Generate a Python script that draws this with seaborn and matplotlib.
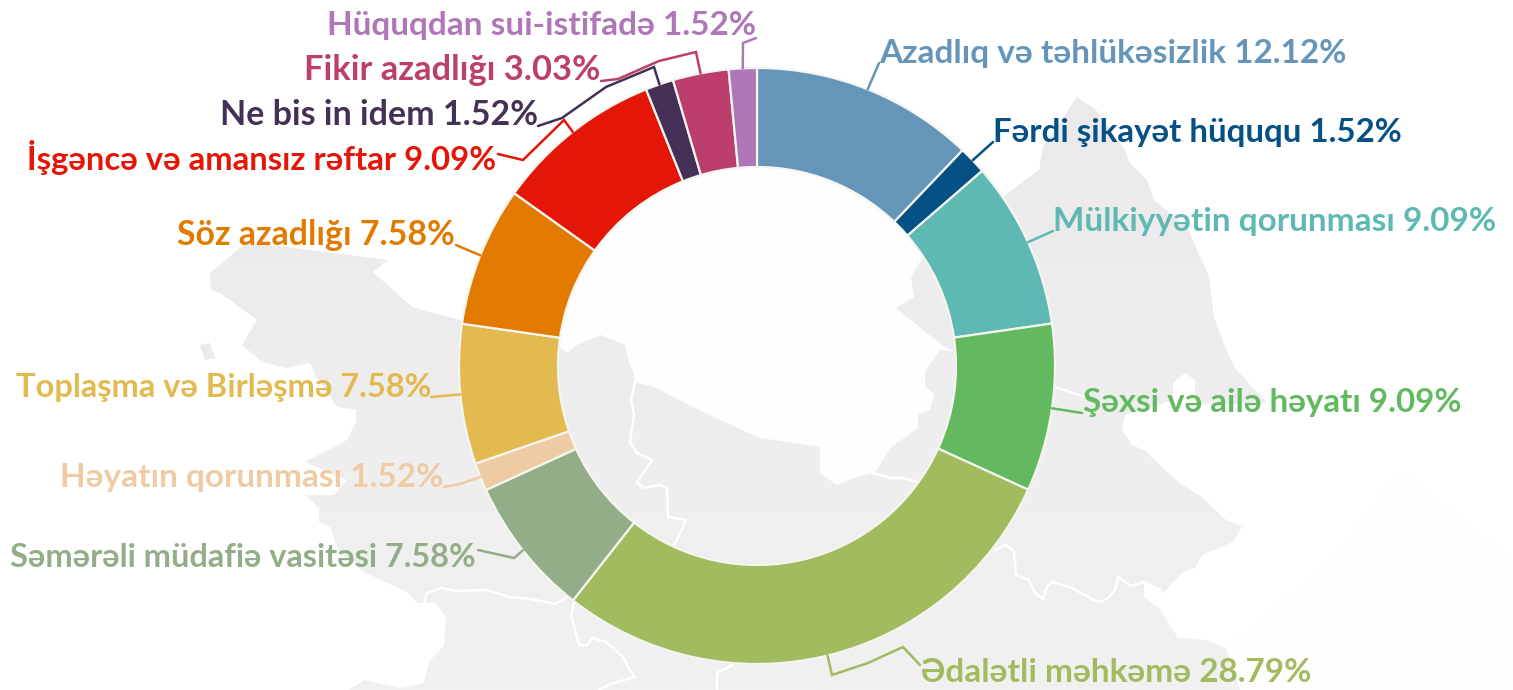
import numpy as np
import matplotlib
matplotlib.use("Agg")
import matplotlib.pyplot as plt
from matplotlib.patches import Polygon
import seaborn as sns

labels = ["Azadlıq və təhlükəsizlik", "Fərdi şikayət hüququ", "Mülkiyyətin qorunması",
          "Şəxsi və ailə həyatı", "Ədalətli məhkəmə", "Səmərəli müdafiə vasitəsi",
          "Həyatın qorunması", "Toplaşma və Birləşmə", "Söz azadlığı",
          "İşgəncə və amansız rəftar", "Ne bis in idem", "Fikir azadlığı", "Hüquqdan sui-istifadə"]
shares = [12.12, 1.52, 9.09, 9.09, 28.79, 7.58, 1.52, 7.58, 7.58, 9.09, 1.52, 3.03, 1.52]
colors = ["#6596b9", "#055186", "#5fb9b3", "#62b95f", "#a1bb5e", "#94ad89", "#efcba3",
          "#e3ba50", "#e27a00", "#e41607", "#453056", "#bc3e6d", "#b077b8"]

# label placement: (x edge in px, baseline y in px, alignment)
label_pos = [(879, 63, "left"), (993, 142, "left"), (1053, 231, "left"), (1083, 412, "left"),
             (921, 682, "left"), (476, 567, "right"), (443, 487, "right"), (431, 397, "right"),
             (455, 245, "right"), (496, 170, "right"), (538, 125, "right"), (600, 80, "right"),
             (756, 35, "right")]
label_sizes = [24, 23.8, 24, 23.9, 24, 23.4, 24, 23.5, 24.4, 23.65, 24.5, 24.8, 24]
# leader knee points after the wedge anchor
leaders = [[(879, 63)], [(993, 142)], [(1053, 231)], [(1082, 413)],
           [(832, 675), (868, 663), (903, 647), (920, 665)],
           [(514, 558), (478, 550)], [(460, 484), (444, 487)], [(431, 397)], [(456, 245)],
           [(564, 120), (523, 160), (498, 154)],
           [(654, 67), (606, 87), (562, 118), (538, 126)],
           [(696, 52), (659, 61), (618, 79), (601, 81)],
           [(743, 43), (756, 38)]]

land = [(210, 273), (247, 242), (388, 260), (373, 272), (412, 307), (460, 320), (560, 330), (800, 330),
        (1005, 195), (1039, 170), (1043, 147), (1077, 97), (1096, 110), (1125, 150), (1130, 163),
        (1147, 180), (1154, 200), (1187, 227), (1209, 277), (1214, 317), (1224, 345), (1235, 368),
        (1267, 403), (1195, 405), (1195, 380), (1185, 373), (1173, 383), (1173, 400), (1125, 415),
        (1122, 430), (1132, 445), (1144, 450), (1178, 482), (1202, 497), (1226, 520), (1242, 527),
        (1233, 542), (1202, 555), (1195, 568), (1183, 572), (1163, 593), (1144, 582), (1144, 597),
        (1159, 608), (1178, 638), (1207, 640), (1226, 648), (1240, 690), (349, 690), (364, 680),
        (402, 688), (424, 683), (429, 662), (444, 645), (446, 617), (436, 603), (417, 603),
        (407, 592), (364, 572), (339, 552), (330, 527), (319, 522), (319, 508), (305, 495),
        (334, 495), (347, 480), (305, 462), (347, 440), (356, 422), (356, 410), (337, 407),
        (315, 375), (310, 363), (286, 368), (262, 362), (242, 345), (257, 320), (220, 293), (211, 290)]
sea = [(557, 345), (567, 353), (577, 345), (601, 335), (625, 345), (629, 363), (634, 373), (635, 382),
       (654, 387), (703, 412), (760, 438), (794, 443), (820, 447), (820, 473), (837, 485), (856, 477),
       (875, 473), (890, 448), (918, 428), (918, 415), (930, 410), (934, 395), (925, 385), (925, 372),
       (940, 350), (955, 352), (942, 345), (923, 330), (896, 308), (914, 297), (911, 277), (923, 257),
       (960, 200), (900, 120), (700, 120), (557, 250)]
faint = [(1240, 690), (1226, 648), (1330, 560), (1400, 470), (1513, 560), (1513, 690)]
islet = [(200, 345), (210, 343), (215, 358), (205, 360)]
borders = [
    [(424, 603), (427, 593), (441, 588), (456, 591), (487, 590), (509, 597), (531, 599), (555, 604), (567, 597)],
    [(574, 602), (571, 615), (579, 645), (587, 645), (592, 638), (606, 642), (623, 657), (630, 670), (635, 677), (613, 683), (599, 690)],
    [(635, 382), (631, 400), (634, 415), (630, 442), (637, 453), (652, 460), (637, 482), (643, 488), (660, 485), (667, 488), (668, 517), (686, 520), (676, 542), (668, 552)],
    [(732, 665), (717, 673), (717, 690)],
    [(995, 550), (1006, 545), (1014, 551), (1016, 575), (1029, 580), (1035, 593), (1043, 599), (1047, 587), (1052, 582), (1072, 588), (1094, 600), (1100, 602), (1108, 598), (1115, 590), (1118, 577), (1131, 586), (1144, 582), (1161, 590)],
    [(1055, 387), (1085, 397)],
    [(873, 473), (890, 478), (902, 478), (917, 482)],
]

CX, CY, R, W = 757, 366, 298, 99
W_PX, H_PX = 1513, 690


def flip(points):
    return [(x, H_PX - y) for x, y in points]


sns.set_theme(style="white")
plt.rcParams["font.family"] = ["Lato", "Noto Sans", "DejaVu Sans"]
palette = sns.color_palette(colors)

fig = plt.figure(figsize=(W_PX / 100, H_PX / 100), dpi=100, facecolor="white")
ax = fig.add_axes([0, 0, 1, 1])

# faded map behind the ring
grad = np.linspace(0, 1, 256).reshape(-1, 1)
img = ax.imshow(grad, extent=(0, W_PX, 0, H_PX), origin="upper", aspect="auto", zorder=0,
                cmap=matplotlib.colors.LinearSegmentedColormap.from_list("m", ["#eae8e9", "#f2f1f2"]))
clip = Polygon(flip(land), transform=ax.transData, fc="none", ec="none")
ax.add_patch(clip)
img.set_clip_path(clip)
ax.add_patch(Polygon(flip(islet), fc="#eceaeb", ec="none", zorder=0.5))
ax.add_patch(Polygon(flip(sea), fc="#fefefe", ec="none", zorder=1))
ax.add_patch(Polygon(flip(faint), fc="#fefefe", ec="none", zorder=1))
for b in borders:
    xs, ys = zip(*flip(b))
    ax.plot(xs, ys, color="white", lw=1.8, zorder=1.5, solid_joinstyle="miter")

wedges, _ = ax.pie(shares, colors=palette, radius=R, center=(CX, H_PX - CY), startangle=90,
                   counterclock=False, frame=True,
                   wedgeprops=dict(width=W, edgecolor="#f4f5ef", linewidth=1.6))
for w in wedges:
    w.set_zorder(3)

total = sum(shares)
cum = np.cumsum([0] + shares)
for i, (name, val) in enumerate(zip(labels, shares)):
    ang = 2 * np.pi * (cum[i] + val / 2) / total
    anchor = (CX + R * np.sin(ang), CY - R * np.cos(ang))
    xs, ys = zip(*flip([anchor] + leaders[i]))
    ax.plot(xs, ys, color=palette[i], lw=1.8, zorder=4, solid_joinstyle="miter")
    x, y, ha = label_pos[i]
    ax.text(x, H_PX - y, f"{name} {val:.2f}%", color=palette[i], ha=ha, va="baseline",
            fontsize=label_sizes[i], fontweight="bold", zorder=5)

ax.set_xlim(0, W_PX)
ax.set_ylim(0, H_PX)
ax.set_aspect("auto")
ax.axis("off")
fig.savefig("out.png", dpi=100, facecolor="white")
